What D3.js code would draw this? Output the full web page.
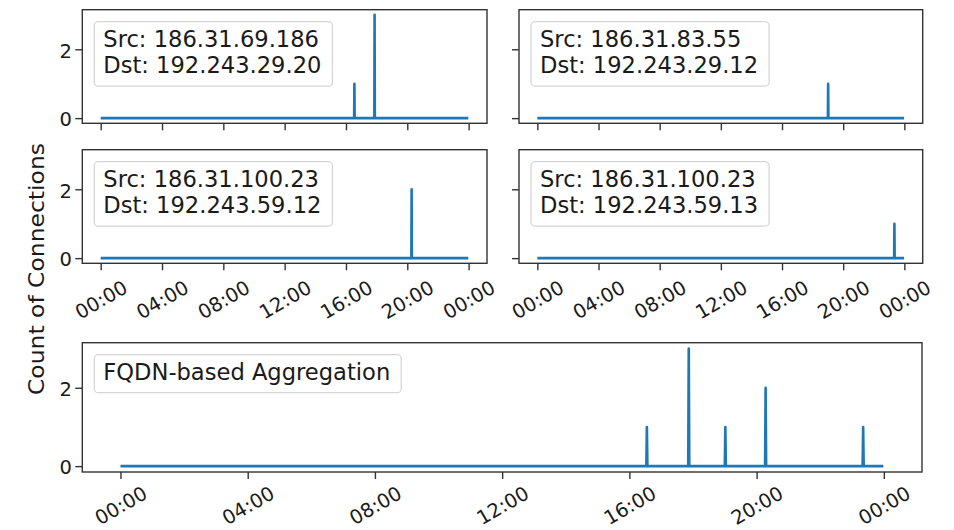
<!DOCTYPE html>
<html>
<head>
<meta charset="utf-8">
<script src="https://cdn.jsdelivr.net/npm/d3@7"></script>
<style>
  html, body { margin: 0; padding: 0; background: #fff; }
  svg { display: block; }
  svg text { font-family: "DejaVu Sans", sans-serif; }
</style>
</head>
<body>
<svg id="chart" width="954" height="530"></svg>
<script>
// connection pairs, one small panel each
const pairSrc = ["186.31.69.186", "186.31.83.55", "186.31.100.23", "186.31.100.23"];
const pairDst = ["192.243.29.20", "192.243.29.12", "192.243.59.12", "192.243.59.13"];
// spikes per pair (time of day, count of connections)
const spikeTimes = [["16:33", "17:52"], ["19:01"], ["20:17"], ["23:21"]];
const spikeCounts = [[1, 3], [1], [2], [1]];
const dayStart = "00:00";
const dayEnd = "23:59";
const yTicks = [0, 2];
const aggLabel = "FQDN-based Aggregation";
const yLabel = "Count of Connections";

const svg = d3.select("#chart");
const day = "2018-03-01";
const parseT = d3.timeParse("%Y-%m-%d %H:%M");
const fmt = d3.timeFormat("%H:%M");
const t0 = parseT(`${day} 00:00`);
const xDomain = [d3.timeMinute.offset(t0, -72), d3.timeMinute.offset(t0, 24 * 60 + 72)];

// build a line series: flat zero with a one-minute spike at each event
function buildSeries(times, counts) {
    const pts = [{ t: parseT(`${day} ${dayStart}`), v: 0 }];
    const ev = times.map((s, i) => ({ t: parseT(`${day} ${s}`), v: counts[i] }))
        .sort((a, b) => a.t - b.t);
    ev.forEach(e => {
        pts.push({ t: d3.timeMinute.offset(e.t, -1), v: 0 });
        pts.push({ t: e.t, v: e.v });
        pts.push({ t: d3.timeMinute.offset(e.t, 1), v: 0 });
    });
    pts.push({ t: parseT(`${day} ${dayEnd}`), v: 0 });
    return pts;
}

const pairSeries = pairSrc.map((s, i) => buildSeries(spikeTimes[i], spikeCounts[i]));
const aggSeries = buildSeries(spikeTimes.flat(), spikeCounts.flat());

const panels = [
    { x0: 82.3, x1: 487, y0: 9.7, y1: 123.3, series: pairSeries[0], lines: [`Src: ${pairSrc[0]}`, `Dst: ${pairDst[0]}`], yLabels: true, xLabels: false, lblOff: 36.5 },
    { x0: 519, x1: 922.7, y0: 9.7, y1: 123.3, series: pairSeries[1], lines: [`Src: ${pairSrc[1]}`, `Dst: ${pairDst[1]}`], yLabels: false, xLabels: false, lblOff: 36.5 },
    { x0: 82.3, x1: 487, y0: 149.7, y1: 263.3, series: pairSeries[2], lines: [`Src: ${pairSrc[2]}`, `Dst: ${pairDst[2]}`], yLabels: true, xLabels: true, lblOff: 36.5 },
    { x0: 519, x1: 922.7, y0: 149.7, y1: 263.3, series: pairSeries[3], lines: [`Src: ${pairSrc[3]}`, `Dst: ${pairDst[3]}`], yLabels: false, xLabels: true, lblOff: 36.5 },
    { x0: 82.3, x1: 922, y0: 342.7, y1: 472, series: aggSeries, lines: [aggLabel], yLabels: true, xLabels: true, lblOff: 33.5 }
];

const ink = "#1a1a1a";

panels.forEach(p => {
    const x = d3.scaleTime().domain(xDomain).range([p.x0, p.x1]);
    const y = d3.scaleLinear().domain([-0.15, 3.15]).range([p.y1, p.y0]);
    const g = svg.append("g").attr("class", "panel");

    // x axis
    const xAxis = g.append("g")
        .attr("transform", `translate(0,${p.y1})`)
        .call(d3.axisBottom(x)
            .ticks(d3.timeHour.every(4))
            .tickFormat(p.xLabels ? fmt : "")
            .tickSize(7)
            .tickSizeOuter(0));
    xAxis.attr("font-family", null).attr("font-size", null);
    xAxis.select(".domain").remove();
    xAxis.selectAll("line").attr("stroke", "#333").attr("stroke-width", 1.4);
    xAxis.selectAll("text")
        .attr("fill", ink)
        .style("font-size", "19.5px")
        .attr("text-anchor", "middle")
        .attr("y", 0).attr("dy", "0.35em")
        .attr("transform", `translate(0,${p.lblOff}) rotate(-30)`);

    // y axis
    const yAxis = g.append("g")
        .attr("transform", `translate(${p.x0},0)`)
        .call(d3.axisLeft(y)
            .tickValues(yTicks)
            .tickFormat(p.yLabels ? d3.format("d") : "")
            .tickSize(7)
            .tickPadding(3.5)
            .tickSizeOuter(0));
    yAxis.attr("font-family", null).attr("font-size", null);
    yAxis.select(".domain").remove();
    yAxis.selectAll("line").attr("stroke", "#333").attr("stroke-width", 1.4);
    yAxis.selectAll("text")
        .attr("fill", ink)
        .style("font-size", "19.5px")
        .attr("dy", "0.4em");

    // series line
    g.append("path")
        .datum(p.series)
        .attr("fill", "none")
        .attr("stroke", "#1f77b4")
        .attr("stroke-width", 2.6)
        .attr("stroke-linejoin", "round")
        .attr("d", d3.line().x(d => x(d.t)).y(d => y(d.v)));

    // spines
    g.append("rect")
        .attr("x", p.x0).attr("y", p.y0)
        .attr("width", p.x1 - p.x0).attr("height", p.y1 - p.y0)
        .attr("fill", "none")
        .attr("stroke", "#333")
        .attr("stroke-width", 1.4);

    // legend box with text
    const leg = g.append("g").attr("class", "legend");
    const boxTop = p.y0 + 12;
    const text = leg.append("text")
        .attr("fill", ink)
        .style("font-size", "22.6px");
    p.lines.forEach((s, i) => {
        text.append("tspan")
            .attr("x", p.x0 + 21)
            .attr("y", boxTop + 25 + i * 26.5)
            .text(s);
    });
    const bbox = text.node().getBBox();
    leg.insert("rect", "text")
        .attr("x", p.x0 + 12)
        .attr("y", boxTop)
        .attr("width", bbox.width + 20)
        .attr("height", 25 + (p.lines.length - 1) * 26.5 + 13)
        .attr("rx", 4).attr("ry", 4)
        .attr("fill", "#fff")
        .attr("fill-opacity", 0.8)
        .attr("stroke", "#d6d6d6")
        .attr("stroke-width", 1.3);
});

// shared y label
svg.append("text")
    .attr("transform", "translate(43.5,269) rotate(-90)")
    .attr("text-anchor", "middle")
    .attr("fill", ink)
    .style("font-size", "20.5px")
    .attr("textLength", 252)
    .attr("lengthAdjust", "spacingAndGlyphs")
    .text(yLabel);
</script>
</body>
</html>
